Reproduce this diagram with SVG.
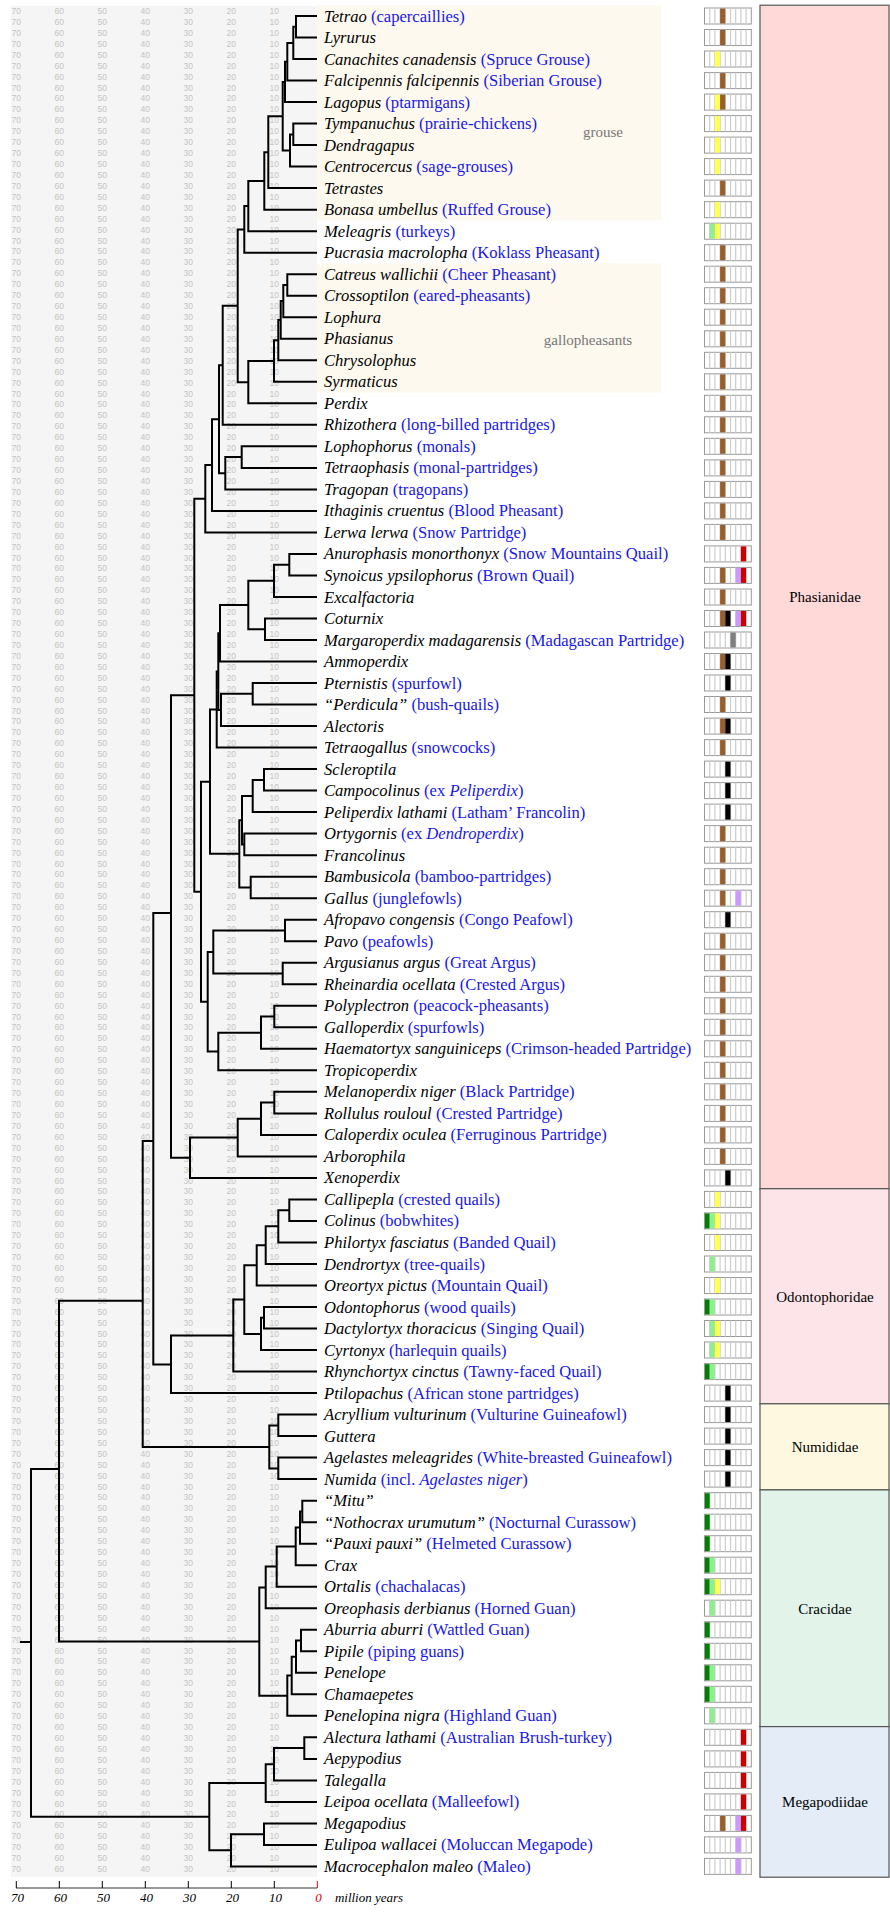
<svg xmlns="http://www.w3.org/2000/svg" xmlns:xlink="http://www.w3.org/1999/xlink" width="890" height="1915" viewBox="0 0 890 1915">
<style>
.bg{fill:#f5f5f5}
.tr path{fill:none;stroke:#000;stroke-width:2}
.lb{font-family:"Liberation Serif","Times New Roman",serif;font-size:16.6px;fill:#000}
.i{font-style:italic}
.b{fill:#1818e6}
.cr{fill:#fef9ee}
.grp{font-family:"Liberation Serif",serif;font-size:15px;fill:#777;text-anchor:middle}
.fam rect{stroke:#555;stroke-width:1.2}
.fam text{font-family:"Liberation Serif",serif;font-size:15px;text-anchor:middle;fill:#000}
.ax text{font-family:"Liberation Serif",serif;font-style:italic;font-size:13px;text-anchor:middle}
</style>
<defs>
<g id="nr" font-family="Liberation Sans, Arial, sans-serif" font-size="8.5" fill="#c4c4c4" text-anchor="middle"><text x="16.3">70</text><text x="59.3">60</text><text x="102.3">50</text><text x="145.3">40</text><text x="188.3">30</text><text x="231.3">20</text><text x="274.3">10</text></g>
<g id="n10"><use href="#nr"/><use href="#nr" y="10.93"/><use href="#nr" y="21.86"/><use href="#nr" y="32.79"/><use href="#nr" y="43.72"/><use href="#nr" y="54.65"/><use href="#nr" y="65.58"/><use href="#nr" y="76.51"/><use href="#nr" y="87.44"/><use href="#nr" y="98.37"/></g>
<g id="bx"><rect x="704.5" y="-8" width="46.8" height="16" fill="#fff" stroke="#999"/><path d="M709.7-8v16M714.9-8v16M720.1-8v16M725.3-8v16M730.5-8v16M735.7-8v16M740.9-8v16M746.1-8v16" stroke="#ccc" stroke-width="1.2"/></g>
<rect id="q1" fill="#008000" x="705" y="-7.5" width="4.7" height="15"/>
<rect id="q2" fill="#90ee90" x="709.7" y="-7.5" width="5.2" height="15"/>
<rect id="q3" fill="#ffff55" x="714.9" y="-7.5" width="5.2" height="15"/>
<rect id="q4" fill="#9b5e2b" x="720.1" y="-7.5" width="5.2" height="15"/>
<rect id="q5" fill="#000000" x="725.3" y="-7.5" width="5.2" height="15"/>
<rect id="q6" fill="#808080" x="730.5" y="-7.5" width="5.2" height="15"/>
<rect id="q7" fill="#cc99ff" x="735.7" y="-7.5" width="5.2" height="15"/>
<rect id="q8" fill="#cc0000" x="740.9" y="-7.5" width="5.2" height="15"/>
</defs>

<g id="background">
<rect class="bg" x="11" y="6" width="306" height="1871"/>
<rect class="cr" x="317" y="5.2" width="344" height="215.3"/>
<rect class="cr" x="317" y="263.4" width="344" height="129.2"/>
<text class="grp" x="603" y="137">grouse</text>
<text class="grp" x="588" y="345">gallopheasants</text>
</g>

<g id="scale-numbers">
<use href="#n10" y="14"/><use href="#n10" y="123.3"/><use href="#n10" y="232.6"/><use href="#n10" y="341.9"/><use href="#n10" y="451.2"/><use href="#n10" y="560.5"/><use href="#n10" y="669.8"/><use href="#n10" y="779.1"/><use href="#n10" y="888.4"/><use href="#n10" y="997.7"/><use href="#n10" y="1107"/><use href="#n10" y="1216.3"/><use href="#n10" y="1325.6"/><use href="#n10" y="1434.9"/><use href="#n10" y="1544.2"/><use href="#n10" y="1653.5"/><use href="#n10" y="1762.8"/><use href="#nr" y="1872.1"/>
</g>

<g id="families" class="fam">
<g id="f-phasianidae"><rect x="760" y="5.2" width="129" height="1183.5" fill="#ffd8d8"/><text x="825" y="602">Phasianidae</text></g>
<g id="f-odontophoridae"><rect x="760" y="1188.7" width="129" height="215.1" fill="#fde4e8"/><text x="825" y="1301.5">Odontophoridae</text></g>
<g id="f-numididae"><rect x="760" y="1403.8" width="129" height="86.1" fill="#fff8e1"/><text x="825" y="1452">Numididae</text></g>
<g id="f-cracidae"><rect x="760" y="1489.9" width="129" height="236.7" fill="#e2f4ea"/><text x="825" y="1613.5">Cracidae</text></g>
<g id="f-megapodiidae"><rect x="760" y="1726.6" width="129" height="150.6" fill="#e3ecf7"/><text x="825" y="1807">Megapodiidae</text></g>
</g>

<g id="connectors" class="tr">
<path d="M317 16H296V37.5H317"/>
<path d="M296 26.8H293.3V59H317"/>
<path d="M293.3 42.9H287.3V80.6H317"/>
<path d="M287.3 61.7H285V102.1H317"/>
<path d="M317 123.6H293.3V145.1H317"/>
<path d="M293.3 134.4H290V166.6H317"/>
<path d="M285 81.9H282.7V150.5H290"/>
<path d="M282.7 116.2H268.3V188.1H317"/>
<path d="M268.3 152.2H264.3V209.7H317"/>
<path d="M264.3 180.9H248.3V231.2H317"/>
<path d="M248.3 206.1H244.3V252.7H317"/>
<path d="M317 274.2H287.3V295.7H317"/>
<path d="M287.3 285H283.3V317.2H317"/>
<path d="M283.3 301.1H280.7V338.8H317"/>
<path d="M280.7 320H278.3V360.3H317"/>
<path d="M278.3 340.2H274V381.8H317"/>
<path d="M274 361H248.3V403.3H317"/>
<path d="M244.3 229.4H237.7V382.2H248.3"/>
<path d="M237.7 305.8H222.7V424.8H317"/>
<path d="M317 446.3H241.7V467.9H317"/>
<path d="M241.7 457.1H225.3V489.4H317"/>
<path d="M222.7 365.3H219V473.3H225.3"/>
<path d="M219 419.3H212V510.9H317"/>
<path d="M212 465.1H205.3V532.4H317"/>
<path d="M317 553.9H289.3V575.4H317"/>
<path d="M289.3 564.7H274V597H317"/>
<path d="M317 618.5H265V640H317"/>
<path d="M274 580.8H248.3V629.3H265"/>
<path d="M248.3 605H220V661.5H317"/>
<path d="M317 683H252.7V704.5H317"/>
<path d="M252.7 693.8H221V726.1H317"/>
<path d="M220 633.3H218.3V709.9H221"/>
<path d="M218.3 671.6H216.7V747.6H317"/>
<path d="M317 769.1H264V790.6H317"/>
<path d="M264 779.9H252.7V812.1H317"/>
<path d="M317 833.6H244.3V855.2H317"/>
<path d="M252.7 796H242V844.4H244.3"/>
<path d="M317 876.7H250.7V898.2H317"/>
<path d="M242 820.2H239.3V887.5H250.7"/>
<path d="M216.7 709.6H210V853.8H239.3"/>
<path d="M317 919.7H285V941.2H317"/>
<path d="M317 962.7H282.7V984.3H317"/>
<path d="M285 930.5H213.3V973.5H282.7"/>
<path d="M317 1005.8H274.3V1027.3H317"/>
<path d="M274.3 1016.6H261V1048.8H317"/>
<path d="M261 1032.7H218.3V1070.3H317"/>
<path d="M213.3 952H207.7V1051.5H218.3"/>
<path d="M210 781.7H201V1001.8H207.7"/>
<path d="M205.3 498.8H194.3V891.7H201"/>
<path d="M317 1091.8H274.3V1113.4H317"/>
<path d="M274.3 1102.6H261V1134.9H317"/>
<path d="M261 1118.8H237.7V1156.4H317"/>
<path d="M237.7 1137.6H190V1177.9H317"/>
<path d="M194.3 695.3H171V1157.8H190"/>
<path d="M317 1199.4H289.3V1220.9H317"/>
<path d="M289.3 1210.2H278.3V1242.5H317"/>
<path d="M278.3 1226.3H265.7V1264H317"/>
<path d="M265.7 1245.2H256.7V1285.5H317"/>
<path d="M317 1307H264V1328.5H317"/>
<path d="M264 1317.8H261V1350H317"/>
<path d="M256.7 1265.3H244.3V1333.9H261"/>
<path d="M244.3 1299.6H233.3V1371.6H317"/>
<path d="M233.3 1335.6H171V1393.1H317"/>
<path d="M171 913H153.3V1364.4H171"/>
<path d="M317 1414.6H278.3V1436.1H317"/>
<path d="M317 1457.6H278.3V1479.1H317"/>
<path d="M278.3 1425.4H269.3V1468.4H278.3"/>
<path d="M153.3 1141H142.7V1446.9H269.3"/>
<path d="M317 1500.7H302.3V1522.2H317"/>
<path d="M302.3 1511.5H300V1543.7H317"/>
<path d="M300 1527.6H295.7V1565.2H317"/>
<path d="M295.7 1546.4H276.7V1586.7H317"/>
<path d="M276.7 1566.6H265.7V1608.2H317"/>
<path d="M317 1629.8H301V1651.3H317"/>
<path d="M301 1640.5H296V1672.8H317"/>
<path d="M296 1656.7H291.7V1694.3H317"/>
<path d="M291.7 1675.5H287.3V1715.8H317"/>
<path d="M265.7 1587.4H259.3V1695.7H287.3"/>
<path d="M142.7 1300.7H59V1641.5H259.3"/>
<path d="M317 1737.3H304.3V1758.9H317"/>
<path d="M304.3 1748.1H274V1780.4H317"/>
<path d="M274 1764.3H265.7V1801.9H317"/>
<path d="M317 1823.4H264V1844.9H317"/>
<path d="M264 1834.2H231V1866.4H317"/>
<path d="M265.7 1783.1H209.3V1850.3H231"/>
<path d="M59 1469H31V1816.7H209.3"/>
<path d="M20 1642H31"/>
</g>

<g id="taxa">
<g id="t01" transform="translate(0,16)"><text class="lb" x="324" y="5.5"><tspan class="i">Tetrao</tspan> <tspan class="b">(capercaillies)</tspan></text><use href="#bx"/><use href="#q4"/></g>
<g id="t02" transform="translate(0,37.5)"><text class="lb" x="324" y="5.5"><tspan class="i">Lyrurus</tspan></text><use href="#bx"/><use href="#q4"/></g>
<g id="t03" transform="translate(0,59)"><text class="lb" x="324" y="5.5"><tspan class="i">Canachites canadensis</tspan> <tspan class="b">(Spruce Grouse)</tspan></text><use href="#bx"/><use href="#q3"/></g>
<g id="t04" transform="translate(0,80.6)"><text class="lb" x="324" y="5.5"><tspan class="i">Falcipennis falcipennis</tspan> <tspan class="b">(Siberian Grouse)</tspan></text><use href="#bx"/><use href="#q4"/></g>
<g id="t05" transform="translate(0,102.1)"><text class="lb" x="324" y="5.5"><tspan class="i">Lagopus</tspan> <tspan class="b">(ptarmigans)</tspan></text><use href="#bx"/><use href="#q3"/><use href="#q4"/></g>
<g id="t06" transform="translate(0,123.6)"><text class="lb" x="324" y="5.5"><tspan class="i">Tympanuchus</tspan> <tspan class="b">(prairie-chickens)</tspan></text><use href="#bx"/><use href="#q3"/></g>
<g id="t07" transform="translate(0,145.1)"><text class="lb" x="324" y="5.5"><tspan class="i">Dendragapus</tspan></text><use href="#bx"/><use href="#q3"/></g>
<g id="t08" transform="translate(0,166.6)"><text class="lb" x="324" y="5.5"><tspan class="i">Centrocercus</tspan> <tspan class="b">(sage-grouses)</tspan></text><use href="#bx"/><use href="#q3"/></g>
<g id="t09" transform="translate(0,188.1)"><text class="lb" x="324" y="5.5"><tspan class="i">Tetrastes</tspan></text><use href="#bx"/><use href="#q4"/></g>
<g id="t10" transform="translate(0,209.7)"><text class="lb" x="324" y="5.5"><tspan class="i">Bonasa umbellus</tspan> <tspan class="b">(Ruffed Grouse)</tspan></text><use href="#bx"/><use href="#q3"/></g>
<g id="t11" transform="translate(0,231.2)"><text class="lb" x="324" y="5.5"><tspan class="i">Meleagris</tspan> <tspan class="b">(turkeys)</tspan></text><use href="#bx"/><use href="#q2"/><use href="#q3"/></g>
<g id="t12" transform="translate(0,252.7)"><text class="lb" x="324" y="5.5"><tspan class="i">Pucrasia macrolopha</tspan> <tspan class="b">(Koklass Pheasant)</tspan></text><use href="#bx"/><use href="#q4"/></g>
<g id="t13" transform="translate(0,274.2)"><text class="lb" x="324" y="5.5"><tspan class="i">Catreus wallichii</tspan> <tspan class="b">(Cheer Pheasant)</tspan></text><use href="#bx"/><use href="#q4"/></g>
<g id="t14" transform="translate(0,295.7)"><text class="lb" x="324" y="5.5"><tspan class="i">Crossoptilon</tspan> <tspan class="b">(eared-pheasants)</tspan></text><use href="#bx"/><use href="#q4"/></g>
<g id="t15" transform="translate(0,317.2)"><text class="lb" x="324" y="5.5"><tspan class="i">Lophura</tspan></text><use href="#bx"/><use href="#q4"/></g>
<g id="t16" transform="translate(0,338.8)"><text class="lb" x="324" y="5.5"><tspan class="i">Phasianus</tspan></text><use href="#bx"/><use href="#q4"/></g>
<g id="t17" transform="translate(0,360.3)"><text class="lb" x="324" y="5.5"><tspan class="i">Chrysolophus</tspan></text><use href="#bx"/><use href="#q4"/></g>
<g id="t18" transform="translate(0,381.8)"><text class="lb" x="324" y="5.5"><tspan class="i">Syrmaticus</tspan></text><use href="#bx"/><use href="#q4"/></g>
<g id="t19" transform="translate(0,403.3)"><text class="lb" x="324" y="5.5"><tspan class="i">Perdix</tspan></text><use href="#bx"/><use href="#q4"/></g>
<g id="t20" transform="translate(0,424.8)"><text class="lb" x="324" y="5.5"><tspan class="i">Rhizothera</tspan> <tspan class="b">(long-billed partridges)</tspan></text><use href="#bx"/><use href="#q4"/></g>
<g id="t21" transform="translate(0,446.3)"><text class="lb" x="324" y="5.5"><tspan class="i">Lophophorus</tspan> <tspan class="b">(monals)</tspan></text><use href="#bx"/><use href="#q4"/></g>
<g id="t22" transform="translate(0,467.9)"><text class="lb" x="324" y="5.5"><tspan class="i">Tetraophasis</tspan> <tspan class="b">(monal-partridges)</tspan></text><use href="#bx"/><use href="#q4"/></g>
<g id="t23" transform="translate(0,489.4)"><text class="lb" x="324" y="5.5"><tspan class="i">Tragopan</tspan> <tspan class="b">(tragopans)</tspan></text><use href="#bx"/><use href="#q4"/></g>
<g id="t24" transform="translate(0,510.9)"><text class="lb" x="324" y="5.5"><tspan class="i">Ithaginis cruentus</tspan> <tspan class="b">(Blood Pheasant)</tspan></text><use href="#bx"/><use href="#q4"/></g>
<g id="t25" transform="translate(0,532.4)"><text class="lb" x="324" y="5.5"><tspan class="i">Lerwa lerwa</tspan> <tspan class="b">(Snow Partridge)</tspan></text><use href="#bx"/><use href="#q4"/></g>
<g id="t26" transform="translate(0,553.9)"><text class="lb" x="324" y="5.5"><tspan class="i">Anurophasis monorthonyx</tspan> <tspan class="b">(Snow Mountains Quail)</tspan></text><use href="#bx"/><use href="#q8"/></g>
<g id="t27" transform="translate(0,575.4)"><text class="lb" x="324" y="5.5"><tspan class="i">Synoicus ypsilophorus</tspan> <tspan class="b">(Brown Quail)</tspan></text><use href="#bx"/><use href="#q4"/><use href="#q7"/><use href="#q8"/></g>
<g id="t28" transform="translate(0,597)"><text class="lb" x="324" y="5.5"><tspan class="i">Excalfactoria</tspan></text><use href="#bx"/><use href="#q4"/></g>
<g id="t29" transform="translate(0,618.5)"><text class="lb" x="324" y="5.5"><tspan class="i">Coturnix</tspan></text><use href="#bx"/><use href="#q4"/><use href="#q5"/><use href="#q7"/><use href="#q8"/></g>
<g id="t30" transform="translate(0,640)"><text class="lb" x="324" y="5.5"><tspan class="i">Margaroperdix madagarensis</tspan> <tspan class="b">(Madagascan Partridge)</tspan></text><use href="#bx"/><use href="#q6"/></g>
<g id="t31" transform="translate(0,661.5)"><text class="lb" x="324" y="5.5"><tspan class="i">Ammoperdix</tspan></text><use href="#bx"/><use href="#q4"/><use href="#q5"/></g>
<g id="t32" transform="translate(0,683)"><text class="lb" x="324" y="5.5"><tspan class="i">Pternistis</tspan> <tspan class="b">(spurfowl)</tspan></text><use href="#bx"/><use href="#q5"/></g>
<g id="t33" transform="translate(0,704.5)"><text class="lb" x="324" y="5.5"><tspan class="i">“Perdicula”</tspan> <tspan class="b">(bush-quails)</tspan></text><use href="#bx"/><use href="#q4"/></g>
<g id="t34" transform="translate(0,726.1)"><text class="lb" x="324" y="5.5"><tspan class="i">Alectoris</tspan></text><use href="#bx"/><use href="#q4"/><use href="#q5"/></g>
<g id="t35" transform="translate(0,747.6)"><text class="lb" x="324" y="5.5"><tspan class="i">Tetraogallus</tspan> <tspan class="b">(snowcocks)</tspan></text><use href="#bx"/><use href="#q4"/></g>
<g id="t36" transform="translate(0,769.1)"><text class="lb" x="324" y="5.5"><tspan class="i">Scleroptila</tspan></text><use href="#bx"/><use href="#q5"/></g>
<g id="t37" transform="translate(0,790.6)"><text class="lb" x="324" y="5.5"><tspan class="i">Campocolinus</tspan> <tspan class="b">(ex <tspan class="i">Peliperdix</tspan>)</tspan></text><use href="#bx"/><use href="#q5"/></g>
<g id="t38" transform="translate(0,812.1)"><text class="lb" x="324" y="5.5"><tspan class="i">Peliperdix lathami</tspan> <tspan class="b">(Latham’ Francolin)</tspan></text><use href="#bx"/><use href="#q5"/></g>
<g id="t39" transform="translate(0,833.6)"><text class="lb" x="324" y="5.5"><tspan class="i">Ortygornis</tspan> <tspan class="b">(ex <tspan class="i">Dendroperdix</tspan>)</tspan></text><use href="#bx"/><use href="#q4"/></g>
<g id="t40" transform="translate(0,855.2)"><text class="lb" x="324" y="5.5"><tspan class="i">Francolinus</tspan></text><use href="#bx"/><use href="#q4"/></g>
<g id="t41" transform="translate(0,876.7)"><text class="lb" x="324" y="5.5"><tspan class="i">Bambusicola</tspan> <tspan class="b">(bamboo-partridges)</tspan></text><use href="#bx"/><use href="#q4"/></g>
<g id="t42" transform="translate(0,898.2)"><text class="lb" x="324" y="5.5"><tspan class="i">Gallus</tspan> <tspan class="b">(junglefowls)</tspan></text><use href="#bx"/><use href="#q4"/><use href="#q7"/></g>
<g id="t43" transform="translate(0,919.7)"><text class="lb" x="324" y="5.5"><tspan class="i">Afropavo congensis</tspan> <tspan class="b">(Congo Peafowl)</tspan></text><use href="#bx"/><use href="#q5"/></g>
<g id="t44" transform="translate(0,941.2)"><text class="lb" x="324" y="5.5"><tspan class="i">Pavo</tspan> <tspan class="b">(peafowls)</tspan></text><use href="#bx"/><use href="#q4"/></g>
<g id="t45" transform="translate(0,962.7)"><text class="lb" x="324" y="5.5"><tspan class="i">Argusianus argus</tspan> <tspan class="b">(Great Argus)</tspan></text><use href="#bx"/><use href="#q4"/></g>
<g id="t46" transform="translate(0,984.3)"><text class="lb" x="324" y="5.5"><tspan class="i">Rheinardia ocellata</tspan> <tspan class="b">(Crested Argus)</tspan></text><use href="#bx"/><use href="#q4"/></g>
<g id="t47" transform="translate(0,1005.8)"><text class="lb" x="324" y="5.5"><tspan class="i">Polyplectron</tspan> <tspan class="b">(peacock-pheasants)</tspan></text><use href="#bx"/><use href="#q4"/></g>
<g id="t48" transform="translate(0,1027.3)"><text class="lb" x="324" y="5.5"><tspan class="i">Galloperdix</tspan> <tspan class="b">(spurfowls)</tspan></text><use href="#bx"/><use href="#q4"/></g>
<g id="t49" transform="translate(0,1048.8)"><text class="lb" x="324" y="5.5"><tspan class="i">Haematortyx sanguiniceps</tspan> <tspan class="b">(Crimson-headed Partridge)</tspan></text><use href="#bx"/><use href="#q4"/></g>
<g id="t50" transform="translate(0,1070.3)"><text class="lb" x="324" y="5.5"><tspan class="i">Tropicoperdix</tspan></text><use href="#bx"/><use href="#q4"/></g>
<g id="t51" transform="translate(0,1091.8)"><text class="lb" x="324" y="5.5"><tspan class="i">Melanoperdix niger</tspan> <tspan class="b">(Black Partridge)</tspan></text><use href="#bx"/><use href="#q4"/></g>
<g id="t52" transform="translate(0,1113.4)"><text class="lb" x="324" y="5.5"><tspan class="i">Rollulus rouloul</tspan> <tspan class="b">(Crested Partridge)</tspan></text><use href="#bx"/><use href="#q4"/></g>
<g id="t53" transform="translate(0,1134.9)"><text class="lb" x="324" y="5.5"><tspan class="i">Caloperdix oculea</tspan> <tspan class="b">(Ferruginous Partridge)</tspan></text><use href="#bx"/><use href="#q4"/></g>
<g id="t54" transform="translate(0,1156.4)"><text class="lb" x="324" y="5.5"><tspan class="i">Arborophila</tspan></text><use href="#bx"/><use href="#q4"/></g>
<g id="t55" transform="translate(0,1177.9)"><text class="lb" x="324" y="5.5"><tspan class="i">Xenoperdix</tspan></text><use href="#bx"/><use href="#q5"/></g>
<g id="t56" transform="translate(0,1199.4)"><text class="lb" x="324" y="5.5"><tspan class="i">Callipepla</tspan> <tspan class="b">(crested quails)</tspan></text><use href="#bx"/><use href="#q3"/></g>
<g id="t57" transform="translate(0,1220.9)"><text class="lb" x="324" y="5.5"><tspan class="i">Colinus</tspan> <tspan class="b">(bobwhites)</tspan></text><use href="#bx"/><use href="#q1"/><use href="#q2"/><use href="#q3"/></g>
<g id="t58" transform="translate(0,1242.5)"><text class="lb" x="324" y="5.5"><tspan class="i">Philortyx fasciatus</tspan> <tspan class="b">(Banded Quail)</tspan></text><use href="#bx"/><use href="#q3"/></g>
<g id="t59" transform="translate(0,1264)"><text class="lb" x="324" y="5.5"><tspan class="i">Dendrortyx</tspan> <tspan class="b">(tree-quails)</tspan></text><use href="#bx"/><use href="#q2"/></g>
<g id="t60" transform="translate(0,1285.5)"><text class="lb" x="324" y="5.5"><tspan class="i">Oreortyx pictus</tspan> <tspan class="b">(Mountain Quail)</tspan></text><use href="#bx"/><use href="#q3"/></g>
<g id="t61" transform="translate(0,1307)"><text class="lb" x="324" y="5.5"><tspan class="i">Odontophorus</tspan> <tspan class="b">(wood quails)</tspan></text><use href="#bx"/><use href="#q1"/><use href="#q2"/></g>
<g id="t62" transform="translate(0,1328.5)"><text class="lb" x="324" y="5.5"><tspan class="i">Dactylortyx thoracicus</tspan> <tspan class="b">(Singing Quail)</tspan></text><use href="#bx"/><use href="#q2"/><use href="#q3"/></g>
<g id="t63" transform="translate(0,1350)"><text class="lb" x="324" y="5.5"><tspan class="i">Cyrtonyx</tspan> <tspan class="b">(harlequin quails)</tspan></text><use href="#bx"/><use href="#q2"/><use href="#q3"/></g>
<g id="t64" transform="translate(0,1371.6)"><text class="lb" x="324" y="5.5"><tspan class="i">Rhynchortyx cinctus</tspan> <tspan class="b">(Tawny-faced Quail)</tspan></text><use href="#bx"/><use href="#q1"/><use href="#q2"/></g>
<g id="t65" transform="translate(0,1393.1)"><text class="lb" x="324" y="5.5"><tspan class="i">Ptilopachus</tspan> <tspan class="b">(African stone partridges)</tspan></text><use href="#bx"/><use href="#q5"/></g>
<g id="t66" transform="translate(0,1414.6)"><text class="lb" x="324" y="5.5"><tspan class="i">Acryllium vulturinum</tspan> <tspan class="b">(Vulturine Guineafowl)</tspan></text><use href="#bx"/><use href="#q5"/></g>
<g id="t67" transform="translate(0,1436.1)"><text class="lb" x="324" y="5.5"><tspan class="i">Guttera</tspan></text><use href="#bx"/><use href="#q5"/></g>
<g id="t68" transform="translate(0,1457.6)"><text class="lb" x="324" y="5.5"><tspan class="i">Agelastes meleagrides</tspan> <tspan class="b">(White-breasted Guineafowl)</tspan></text><use href="#bx"/><use href="#q5"/></g>
<g id="t69" transform="translate(0,1479.1)"><text class="lb" x="324" y="5.5"><tspan class="i">Numida</tspan> <tspan class="b">(incl. <tspan class="i">Agelastes niger</tspan>)</tspan></text><use href="#bx"/><use href="#q5"/></g>
<g id="t70" transform="translate(0,1500.7)"><text class="lb" x="324" y="5.5"><tspan class="i">“Mitu”</tspan></text><use href="#bx"/><use href="#q1"/></g>
<g id="t71" transform="translate(0,1522.2)"><text class="lb" x="324" y="5.5"><tspan class="i">“Nothocrax urumutum”</tspan> <tspan class="b">(Nocturnal Curassow)</tspan></text><use href="#bx"/><use href="#q1"/></g>
<g id="t72" transform="translate(0,1543.7)"><text class="lb" x="324" y="5.5"><tspan class="i">“Pauxi pauxi”</tspan> <tspan class="b">(Helmeted Curassow)</tspan></text><use href="#bx"/><use href="#q1"/></g>
<g id="t73" transform="translate(0,1565.2)"><text class="lb" x="324" y="5.5"><tspan class="i">Crax</tspan></text><use href="#bx"/><use href="#q1"/><use href="#q2"/></g>
<g id="t74" transform="translate(0,1586.7)"><text class="lb" x="324" y="5.5"><tspan class="i">Ortalis</tspan> <tspan class="b">(chachalacas)</tspan></text><use href="#bx"/><use href="#q1"/><use href="#q2"/><use href="#q3"/></g>
<g id="t75" transform="translate(0,1608.2)"><text class="lb" x="324" y="5.5"><tspan class="i">Oreophasis derbianus</tspan> <tspan class="b">(Horned Guan)</tspan></text><use href="#bx"/><use href="#q2"/></g>
<g id="t76" transform="translate(0,1629.8)"><text class="lb" x="324" y="5.5"><tspan class="i">Aburria aburri</tspan> <tspan class="b">(Wattled Guan)</tspan></text><use href="#bx"/><use href="#q1"/></g>
<g id="t77" transform="translate(0,1651.3)"><text class="lb" x="324" y="5.5"><tspan class="i">Pipile</tspan> <tspan class="b">(piping guans)</tspan></text><use href="#bx"/><use href="#q1"/></g>
<g id="t78" transform="translate(0,1672.8)"><text class="lb" x="324" y="5.5"><tspan class="i">Penelope</tspan></text><use href="#bx"/><use href="#q1"/><use href="#q2"/></g>
<g id="t79" transform="translate(0,1694.3)"><text class="lb" x="324" y="5.5"><tspan class="i">Chamaepetes</tspan></text><use href="#bx"/><use href="#q1"/><use href="#q2"/></g>
<g id="t80" transform="translate(0,1715.8)"><text class="lb" x="324" y="5.5"><tspan class="i">Penelopina nigra</tspan> <tspan class="b">(Highland Guan)</tspan></text><use href="#bx"/><use href="#q2"/></g>
<g id="t81" transform="translate(0,1737.3)"><text class="lb" x="324" y="5.5"><tspan class="i">Alectura lathami</tspan> <tspan class="b">(Australian Brush-turkey)</tspan></text><use href="#bx"/><use href="#q8"/></g>
<g id="t82" transform="translate(0,1758.9)"><text class="lb" x="324" y="5.5"><tspan class="i">Aepypodius</tspan></text><use href="#bx"/><use href="#q8"/></g>
<g id="t83" transform="translate(0,1780.4)"><text class="lb" x="324" y="5.5"><tspan class="i">Talegalla</tspan></text><use href="#bx"/><use href="#q8"/></g>
<g id="t84" transform="translate(0,1801.9)"><text class="lb" x="324" y="5.5"><tspan class="i">Leipoa ocellata</tspan> <tspan class="b">(Malleefowl)</tspan></text><use href="#bx"/><use href="#q8"/></g>
<g id="t85" transform="translate(0,1823.4)"><text class="lb" x="324" y="5.5"><tspan class="i">Megapodius</tspan></text><use href="#bx"/><use href="#q4"/><use href="#q7"/><use href="#q8"/></g>
<g id="t86" transform="translate(0,1844.9)"><text class="lb" x="324" y="5.5"><tspan class="i">Eulipoa wallacei</tspan> <tspan class="b">(Moluccan Megapode)</tspan></text><use href="#bx"/><use href="#q7"/></g>
<g id="t87" transform="translate(0,1866.4)"><text class="lb" x="324" y="5.5"><tspan class="i">Macrocephalon maleo</tspan> <tspan class="b">(Maleo)</tspan></text><use href="#bx"/><use href="#q7"/></g>
</g>

<g id="axis" class="ax">
<path d="M16 1888H317.3" stroke="#333" stroke-width="1" fill="none"/>
<path d="M16.3 1881v7M59.3 1881v7M102.3 1881v7M145.3 1881v7M188.3 1881v7M231.3 1881v7M274.3 1881v7" stroke="#000" stroke-width="1" fill="none"/>
<path d="M317.3 1881v7" stroke="#d00" stroke-width="1" fill="none"/>
<text x="17.5" y="1902">70</text><text x="60.5" y="1902">60</text><text x="103.5" y="1902">50</text><text x="146.5" y="1902">40</text><text x="189.5" y="1902">30</text><text x="232.5" y="1902">20</text><text x="275.5" y="1902">10</text><text x="318.5" y="1902" fill="#d00">0</text>
<text x="369" y="1902">million years</text>
</g>
</svg>
